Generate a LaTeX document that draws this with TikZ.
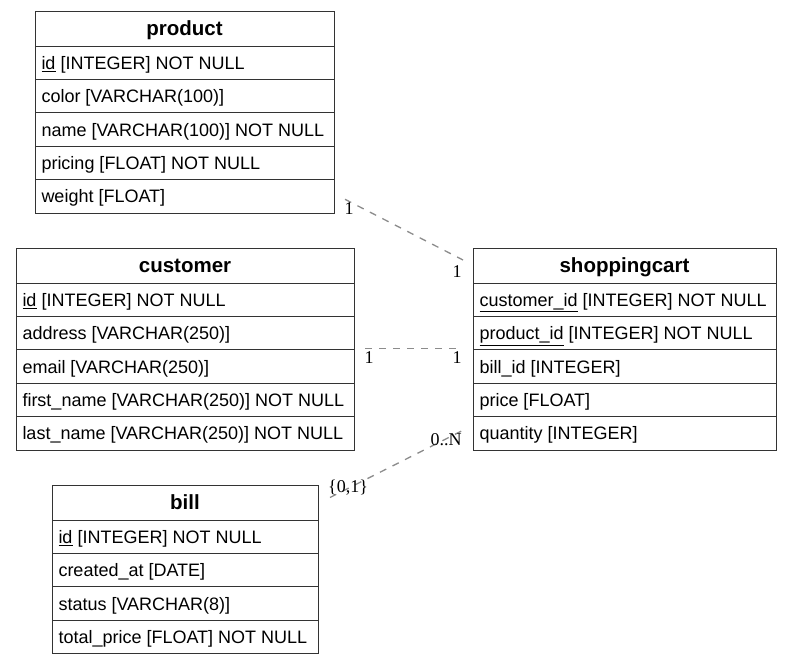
\documentclass[tikz,border=0pt]{standalone}
\usepackage{fontspec}
\setmainfont{Liberation Sans}
\newfontfamily\cardfont{Liberation Serif}
\usetikzlibrary{positioning}

\tikzset{
	tblhead/.style={draw=black!80, line width=1pt, outer sep=0pt, anchor=north west,
		minimum height=35, inner sep=0pt, text height=17, text depth=2.6,
		font=\fontsize{20.5}{24}\selectfont\bfseries},
	tblrow/.style={draw=black!80, line width=1pt, outer sep=0pt, minimum height=33.4,
		inner xsep=6.5, inner ysep=0pt, text height=15, text depth=2,
		font=\fontsize{18}{21}\selectfont},
	link/.style={black!45, line width=1.3pt, dash pattern=on 7pt off 7pt},
	card/.style={font=\cardfont\fontsize{18}{20}\selectfont, inner sep=0pt}
}

\begin{document}
\begin{tikzpicture}[x=1pt,y=-1pt]
\useasboundingbox (0,0) rectangle (792,664);
\def\erdtable#1#2#3#4#5{
	\node[tblhead, minimum width=#4, alias=#1-0] (#1) at (#2,#3) {#1};
	\pgfmathsetmacro\tw{#4-13}
	\foreach \rowtext [count=\i, remember=\i as \j (initially 0)] in {#5}{
		\node[tblrow, below=0pt of #1-\j] (#1-\i) {\makebox[\tw pt][l]{\rowtext}};
	}
}
\erdtable{product}{35}{11}{299}{
	{\underline{id} [INTEGER] NOT NULL},
	{color [VARCHAR(100)]},
	{name [VARCHAR(100)] NOT NULL},
	{pricing [FLOAT] NOT NULL},
	{weight [FLOAT]}}
\erdtable{customer}{16}{248}{338}{
	{\underline{id} [INTEGER] NOT NULL},
	{address [VARCHAR(250)]},
	{email [VARCHAR(250)]},
	{first\_name [VARCHAR(250)] NOT NULL},
	{last\_name [VARCHAR(250)] NOT NULL}}
\erdtable{shoppingcart}{473}{248}{303}{
	{\underline{customer\_id} [INTEGER] NOT NULL},
	{\underline{product\_id} [INTEGER] NOT NULL},
	{bill\_id [INTEGER]},
	{price [FLOAT]},
	{quantity [INTEGER]}}
\erdtable{bill}{52}{485}{266}{
	{\underline{id} [INTEGER] NOT NULL},
	{created\_at [DATE]},
	{status [VARCHAR(8)]},
	{total\_price [FLOAT] NOT NULL}}

% relations
\draw[link] ([shift={(11,3)}]product-5.east) -- ([shift={(-10,-5.5)}]shoppingcart.west);
\draw[link] ([shift={(11,-1)}]customer-2.south east) -- ([shift={(-10,-1)}]shoppingcart-2.south west);
\draw[link] ([shift={(12,-5)}]bill.east) -- ([shift={(-10,-3)}]shoppingcart-5.west);

\node[card] (card-p) at (349,209) {1};
\node[card] (card-sp) at (457,272) {1};
\node[card] (card-c) at (369,358) {1};
\node[card] (card-sc) at (457,358) {1};
\node[card] (card-b) at (348,488) {\{0,1\}};
\node[card] (card-sb) at (446,440) {0..N};
\end{tikzpicture}
\end{document}
